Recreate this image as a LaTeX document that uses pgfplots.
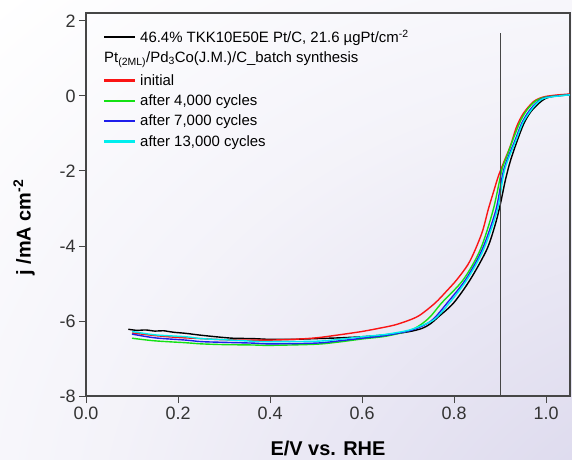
\documentclass[border=0pt]{standalone}
\usepackage{pgfplots}
\pgfplotsset{compat=1.18}
\usepackage{fontspec}
\setmainfont{Liberation Sans}
\usetikzlibrary{backgrounds}
\definecolor{lav}{RGB}{210,206,232}
\definecolor{cred}{RGB}{250,20,20}
\definecolor{cgreen}{RGB}{20,225,20}
\definecolor{cblue}{RGB}{30,30,235}
\definecolor{ccyan}{RGB}{0,238,238}
\definecolor{frame}{RGB}{70,70,70}
\pgfdeclareradialshading{bgsh}{\pgfpoint{50bp}{-50bp}}{color(0bp)=(lav); color(25bp)=(lav!70!white); color(50bp)=(lav!25!white); color(72bp)=(white); color(150bp)=(white)}
\begin{document}
\begin{tikzpicture}
\begin{axis}[
  name=ax,
  scale only axis, width=484bp, height=383bp,
  xmin=0, xmax=1.052, ymin=-8, ymax=2.21,
  xtick={0,0.2,0.4,0.6,0.8,1.0},
  xticklabels={0.0,0.2,0.4,0.6,0.8,1.0},
  ytick={-8,-6,-4,-2,0,2},
  yticklabels={-8,-6,-4,-2,0,2},
  xtick pos=bottom, ytick pos=left,
  tick align=outside,
  major tick length=7bp,
  tick style={frame, line width=0.9bp},
  axis line style={frame, line width=1.2bp},
  tick label style={font=\fontsize{18}{20}\selectfont, text=black!80},
  xlabel={\bfseries E/V vs. RHE},
  ylabel={\bfseries j /mA cm\textsuperscript{-2}},
  label style={font=\fontsize{20}{22}\selectfont},
  xlabel style={at={(axis description cs:0.5,-0.155)}, anchor=base},
  ylabel style={at={(axis description cs:-0.128,0.44)}, anchor=center},
  legend style={at={(axis description cs:0.03,0.966)}, anchor=north west, draw=none, fill=none,
     font=\fontsize{15}{17}\selectfont, row sep=5bp,
     nodes={inner sep=1.5bp}},
  legend cell align=left,
  legend image code/.code={\fill[#1, draw=none] (0bp,-1.1bp) rectangle (31bp,1.1bp); \path[draw=none] (35bp,0bp);},
  every axis plot/.append style={line width=1.4bp},
]
\addplot[black, smooth] coordinates {
(0.092,-6.22) (0.11,-6.25) (0.13,-6.24) (0.15,-6.27) (0.168,-6.26) (0.19,-6.30) (0.217,-6.33) (0.25,-6.38) (0.29,-6.43) (0.32,-6.46) (0.363,-6.47) (0.4,-6.49) (0.45,-6.49) (0.5,-6.47) (0.55,-6.45) (0.6,-6.42) (0.65,-6.37) (0.7,-6.29) (0.73,-6.20) (0.748,-6.08) (0.766,-5.89) (0.799,-5.52) (0.835,-4.90) (0.871,-4.10) (0.889,-3.45) (0.90,-2.92) (0.912,-2.22) (0.923,-1.71) (0.938,-1.17) (0.952,-0.73) (0.967,-0.42) (0.985,-0.19) (1.0,-0.06) (1.02,0.0) (1.052,0.04)};
\addlegendentry{46.4\% TKK10E50E Pt/C, 21.6 µgPt/cm\textsuperscript{-2}}
\addlegendimage{draw=none, legend image code/.code={\path[draw=none] (0bp,-10bp) rectangle (35bp,0bp);}}
\addlegendentry{\hspace*{-36bp}Pt\textsubscript{(2ML)}/Pd\textsubscript{3}Co(J.M.)/C\_batch synthesis}
\addplot[cred, smooth] coordinates {
(0.1,-6.32) (0.15,-6.39) (0.2,-6.44) (0.25,-6.47) (0.3,-6.50) (0.363,-6.51) (0.4,-6.51) (0.45,-6.49) (0.5,-6.45) (0.55,-6.37) (0.6,-6.28) (0.639,-6.19) (0.67,-6.11) (0.7,-5.99) (0.725,-5.85) (0.759,-5.52) (0.784,-5.20) (0.806,-4.90) (0.83,-4.50) (0.846,-4.10) (0.862,-3.60) (0.874,-3.04) (0.886,-2.55) (0.896,-2.15) (0.907,-1.80) (0.922,-1.35) (0.936,-0.82) (0.951,-0.46) (0.973,-0.15) (0.994,-0.03) (1.02,0.02) (1.052,0.05)};
\addlegendentry{initial}
\addplot[cgreen, smooth] coordinates {
(0.1,-6.46) (0.15,-6.53) (0.217,-6.58) (0.25,-6.61) (0.3,-6.63) (0.363,-6.64) (0.4,-6.65) (0.5,-6.62) (0.55,-6.56) (0.6,-6.48) (0.65,-6.41) (0.7,-6.27) (0.725,-6.12) (0.748,-5.89) (0.773,-5.52) (0.82,-4.90) (0.857,-4.10) (0.885,-3.04) (0.904,-1.97) (0.915,-1.60) (0.93,-1.10) (0.945,-0.65) (0.96,-0.35) (0.978,-0.13) (1.0,-0.03) (1.052,0.03)};
\addlegendentry{after 4,000 cycles}
\addplot[cblue, smooth] coordinates {
(0.1,-6.35) (0.15,-6.45) (0.217,-6.51) (0.25,-6.55) (0.3,-6.57) (0.363,-6.59) (0.4,-6.61) (0.5,-6.59) (0.55,-6.53) (0.6,-6.46) (0.65,-6.39) (0.7,-6.27) (0.73,-6.14) (0.755,-5.95) (0.785,-5.52) (0.825,-4.90) (0.861,-4.10) (0.891,-3.04) (0.908,-1.97) (0.933,-1.17) (0.947,-0.73) (0.962,-0.42) (0.98,-0.17) (1.0,-0.04) (1.052,0.03)};
\addlegendentry{after 7,000 cycles}
\addplot[ccyan, smooth] coordinates {
(0.1,-6.28) (0.15,-6.37) (0.217,-6.42) (0.25,-6.47) (0.3,-6.50) (0.363,-6.54) (0.4,-6.55) (0.5,-6.54) (0.55,-6.49) (0.6,-6.42) (0.65,-6.36) (0.7,-6.25) (0.73,-6.12) (0.758,-5.95) (0.79,-5.52) (0.828,-4.90) (0.864,-4.10) (0.894,-3.04) (0.91,-1.97) (0.935,-1.17) (0.949,-0.73) (0.965,-0.42) (0.982,-0.17) (1.0,-0.05) (1.052,0.03)};
\addlegendentry{after 13,000 cycles}
\addplot[frame, line width=0.9bp, forget plot] coordinates {(0.9,-8) (0.9,1.68)};
\coordinate (sw) at (rel axis cs:0,0);
\coordinate (ne) at (rel axis cs:1,1);
\end{axis}
\begin{pgfonlayer}{background}
\shade[shading=bgsh] ([shift={(-86bp,-64bp)}]sw) rectangle ([shift={(2bp,13bp)}]ne);
\end{pgfonlayer}
\end{tikzpicture}
\end{document}
